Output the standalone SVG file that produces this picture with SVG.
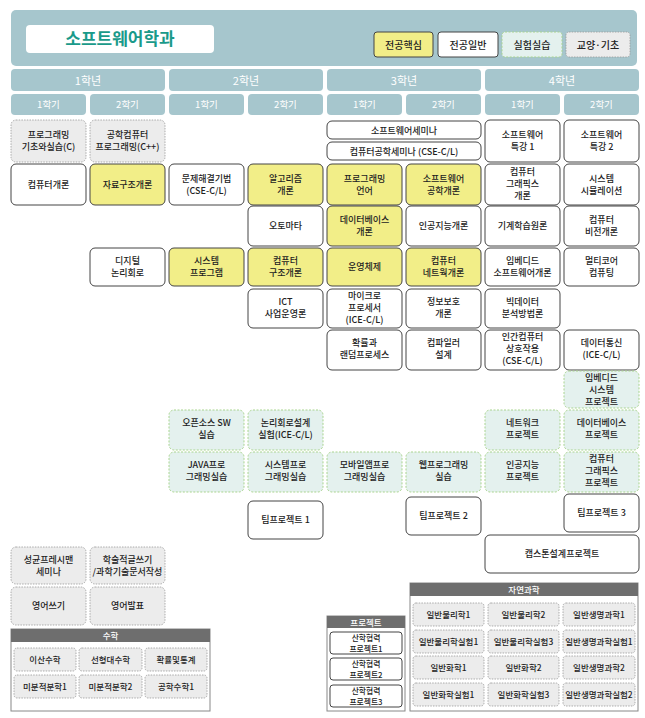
<svg xmlns="http://www.w3.org/2000/svg" width="645" height="718" viewBox="0 0 645 718">
<style>
text{font-family:"Noto Sans CJK KR","Noto Sans",sans-serif;font-size:9px;fill:#222;text-anchor:middle;font-weight:500}
.hd{fill:#a6c6cd}
.ht{fill:#fff;font-size:11px;font-weight:400}
.st{fill:#fff;font-size:9.5px;font-weight:400}
.n{fill:#fff;stroke:#444;stroke-width:1}
.y{fill:#f2ee88;stroke:#444;stroke-width:1}
.l{fill:#e4f1ee;stroke:#a9d48f;stroke-width:1;stroke-dasharray:2 1.5}
.g{fill:#ececec;stroke:#999;stroke-width:0.8;stroke-dasharray:1.5 1.2}
.pn{fill:#fff;stroke:#888;stroke-width:1}
.ph{fill:#6e6e6e}
.pt{fill:#fff;font-size:8.5px}
.s{font-size:8.5px}
.p{font-size:7.8px}
</style>
<g id="header">
<rect x="11" y="10" width="626" height="56" rx="5" class="hd"/>
<rect x="26" y="25" width="188" height="28" rx="4" fill="#fff"/>
<text x="120" y="45" style="font-size:17px;fill:#1a9a8a;font-weight:700">소프트웨어학과</text>
<rect x="374" y="32" width="59" height="25" rx="3" class="y"/><text x="403.5" y="48.5" style="font-size:10px">전공핵심</text>
<rect x="438" y="32" width="60" height="25" rx="3" class="n"/><text x="468" y="48.5" style="font-size:10px">전공일반</text>
<rect x="502" y="32" width="60" height="25" rx="3" class="l"/><text x="532" y="48.5" style="font-size:10px">실험실습</text>
<rect x="566" y="32" width="64" height="25" rx="3" class="g"/><text x="598" y="48.5" style="font-size:10px">교양·기초</text>
</g>
<g id="years">
<rect x="11" y="69" width="154" height="22" rx="4" class="hd"/><text x="88" y="84.5" class="ht">1학년</text>
<rect x="169" y="69" width="154" height="22" rx="4" class="hd"/><text x="246" y="84.5" class="ht">2학년</text>
<rect x="327" y="69" width="154" height="22" rx="4" class="hd"/><text x="404" y="84.5" class="ht">3학년</text>
<rect x="485" y="69" width="154" height="22" rx="4" class="hd"/><text x="562" y="84.5" class="ht">4학년</text>
<rect x="11" y="94" width="75" height="21" rx="4" class="hd"/><text x="48.5" y="108" class="st">1학기</text>
<rect x="90" y="94" width="75" height="21" rx="4" class="hd"/><text x="127.5" y="108" class="st">2학기</text>
<rect x="169" y="94" width="75" height="21" rx="4" class="hd"/><text x="206.5" y="108" class="st">1학기</text>
<rect x="248" y="94" width="75" height="21" rx="4" class="hd"/><text x="285.5" y="108" class="st">2학기</text>
<rect x="327" y="94" width="75" height="21" rx="4" class="hd"/><text x="364.5" y="108" class="st">1학기</text>
<rect x="406" y="94" width="75" height="21" rx="4" class="hd"/><text x="443.5" y="108" class="st">2학기</text>
<rect x="485" y="94" width="75" height="21" rx="4" class="hd"/><text x="522.5" y="108" class="st">1학기</text>
<rect x="564" y="94" width="75" height="21" rx="4" class="hd"/><text x="601.5" y="108" class="st">2학기</text>
</g>
<g id="row1">
<rect x="11" y="120" width="75" height="42" rx="5" class="g"/><text x="48.5" y="138">프로그래밍</text><text x="48.5" y="150">기초와실습(C)</text>
<rect x="90" y="120" width="75" height="42" rx="5" class="g"/><text x="127.5" y="138">공학컴퓨터</text><text x="127.5" y="150">프로그래밍(C++)</text>
<rect x="327" y="121" width="154" height="18" rx="5" class="n"/><text x="404" y="133.5">소프트웨어세미나</text>
<rect x="327" y="142" width="154" height="18" rx="5" class="n"/><text x="404" y="154.5">컴퓨터공학세미나 (CSE-C/L)</text>
<rect x="485" y="120" width="75" height="42" rx="5" class="n"/><text x="522.5" y="138">소프트웨어</text><text x="522.5" y="150">특강 1</text>
<rect x="564" y="120" width="75" height="42" rx="5" class="n"/><text x="601.5" y="138">소프트웨어</text><text x="601.5" y="150">특강 2</text>
</g>
<g id="row2">
<rect x="11" y="164" width="75" height="41" rx="5" class="n"/><text x="48.5" y="188">컴퓨터개론</text>
<rect x="90" y="164" width="75" height="41" rx="5" class="y"/><text x="127.5" y="188">자료구조개론</text>
<rect x="169" y="164" width="75" height="41" rx="5" class="n"/><text x="206.5" y="182">문제해결기법</text><text x="206.5" y="194">(CSE-C/L)</text>
<rect x="248" y="164" width="75" height="41" rx="5" class="y"/><text x="285.5" y="182">알고리즘</text><text x="285.5" y="194">개론</text>
<rect x="327" y="164" width="75" height="41" rx="5" class="y"/><text x="364.5" y="182">프로그래밍</text><text x="364.5" y="194">언어</text>
<rect x="406" y="164" width="75" height="41" rx="5" class="y"/><text x="443.5" y="182">소프트웨어</text><text x="443.5" y="194">공학개론</text>
<rect x="485" y="164" width="75" height="41" rx="5" class="n"/><text x="522.5" y="175">컴퓨터</text><text x="522.5" y="187">그래픽스</text><text x="522.5" y="199">개론</text>
<rect x="564" y="164" width="75" height="41" rx="5" class="n"/><text x="601.5" y="182">시스템</text><text x="601.5" y="194">시뮬레이션</text>
</g>
<g id="row3">
<rect x="248" y="206" width="75" height="40" rx="5" class="n"/><text x="285.5" y="229">오토마타</text>
<rect x="327" y="206" width="75" height="40" rx="5" class="y"/><text x="364.5" y="223">데이터베이스</text><text x="364.5" y="235">개론</text>
<rect x="406" y="206" width="75" height="40" rx="5" class="n"/><text x="443.5" y="229">인공지능개론</text>
<rect x="485" y="206" width="75" height="40" rx="5" class="n"/><text x="522.5" y="229">기계학습원론</text>
<rect x="564" y="206" width="75" height="40" rx="5" class="n"/><text x="601.5" y="223">컴퓨터</text><text x="601.5" y="235">비전개론</text>
</g>
<g id="row4">
<rect x="90" y="248" width="75" height="38" rx="5" class="n"/><text x="127.5" y="264">디지털</text><text x="127.5" y="276">논리회로</text>
<rect x="169" y="248" width="75" height="38" rx="5" class="y"/><text x="206.5" y="264">시스템</text><text x="206.5" y="276">프로그램</text>
<rect x="248" y="248" width="75" height="38" rx="5" class="y"/><text x="285.5" y="264">컴퓨터</text><text x="285.5" y="276">구조개론</text>
<rect x="327" y="248" width="75" height="38" rx="5" class="y"/><text x="364.5" y="270">운영체제</text>
<rect x="406" y="248" width="75" height="38" rx="5" class="y"/><text x="443.5" y="264">컴퓨터</text><text x="443.5" y="276">네트웍개론</text>
<rect x="485" y="248" width="75" height="38" rx="5" class="n"/><text x="522.5" y="264">임베디드</text><text x="522.5" y="276">소프트웨어개론</text>
<rect x="564" y="248" width="75" height="38" rx="5" class="n"/><text x="601.5" y="264">멀티코어</text><text x="601.5" y="276">컴퓨팅</text>
</g>
<g id="row5">
<rect x="248" y="289" width="75" height="39" rx="5" class="n"/><text x="285.5" y="305">ICT</text><text x="285.5" y="317">사업운영론</text>
<rect x="327" y="289" width="75" height="39" rx="5" class="n"/><text x="364.5" y="299">마이크로</text><text x="364.5" y="311">프로세서</text><text x="364.5" y="323">(ICE-C/L)</text>
<rect x="406" y="289" width="75" height="39" rx="5" class="n"/><text x="443.5" y="305">정보보호</text><text x="443.5" y="317">개론</text>
<rect x="485" y="289" width="75" height="39" rx="5" class="n"/><text x="522.5" y="305">빅데이터</text><text x="522.5" y="317">분석방법론</text>
</g>
<g id="row6">
<rect x="327" y="330" width="75" height="40" rx="5" class="n"/><text x="364.5" y="346">확률과</text><text x="364.5" y="358">랜덤프로세스</text>
<rect x="406" y="330" width="75" height="40" rx="5" class="n"/><text x="443.5" y="346">컴파일러</text><text x="443.5" y="358">설계</text>
<rect x="485" y="330" width="75" height="40" rx="5" class="n"/><text x="522.5" y="340">인간컴퓨터</text><text x="522.5" y="352">상호작용</text><text x="522.5" y="364">(CSE-C/L)</text>
<rect x="564" y="330" width="75" height="40" rx="5" class="n"/><text x="601.5" y="346">데이터통신</text><text x="601.5" y="358">(ICE-C/L)</text>
</g>
<g id="labs">
<rect x="564" y="371" width="75" height="37" rx="5" class="l"/><text x="601.5" y="381">임베디드</text><text x="601.5" y="393">시스템</text><text x="601.5" y="405">프로젝트</text>
<rect x="169" y="410" width="75" height="40" rx="5" class="l"/><text x="206.5" y="426">오픈소스 SW</text><text x="206.5" y="438">실습</text>
<rect x="248" y="410" width="75" height="40" rx="5" class="l"/><text x="285.5" y="426">논리회로설계</text><text x="285.5" y="438">실험(ICE-C/L)</text>
<rect x="485" y="410" width="75" height="40" rx="5" class="l"/><text x="522.5" y="426">네트워크</text><text x="522.5" y="438">프로젝트</text>
<rect x="564" y="410" width="75" height="40" rx="5" class="l"/><text x="601.5" y="426">데이터베이스</text><text x="601.5" y="438">프로젝트</text>
<rect x="169" y="452" width="75" height="40" rx="5" class="l"/><text x="206.5" y="468">JAVA프로</text><text x="206.5" y="480">그래밍실습</text>
<rect x="248" y="452" width="75" height="40" rx="5" class="l"/><text x="285.5" y="468">시스템프로</text><text x="285.5" y="480">그래밍실습</text>
<rect x="327" y="452" width="75" height="40" rx="5" class="l"/><text x="364.5" y="468">모바일앱프로</text><text x="364.5" y="480">그래밍실습</text>
<rect x="406" y="452" width="75" height="40" rx="5" class="l"/><text x="443.5" y="468">웹프로그래밍</text><text x="443.5" y="480">실습</text>
<rect x="485" y="452" width="75" height="40" rx="5" class="l"/><text x="522.5" y="468">인공지능</text><text x="522.5" y="480">프로젝트</text>
<rect x="564" y="452" width="75" height="40" rx="5" class="l"/><text x="601.5" y="462">컴퓨터</text><text x="601.5" y="474">그래픽스</text><text x="601.5" y="486">프로젝트</text>
</g>
<g id="team">
<rect x="248" y="501" width="75" height="38" rx="5" class="n"/><text x="285.5" y="523">팀프로젝트 1</text>
<rect x="406" y="497" width="75" height="38" rx="5" class="n"/><text x="443.5" y="519">팀프로젝트 2</text>
<rect x="564" y="494" width="75" height="38" rx="5" class="n"/><text x="601.5" y="516">팀프로젝트 3</text>
<rect x="485" y="535" width="154" height="38" rx="5" class="n"/><text x="562" y="557">캡스톤설계프로젝트</text>
</g>
<g id="liberal">
<rect x="11" y="547" width="75" height="37" rx="5" class="g"/><text x="48.5" y="563">성균프레시맨</text><text x="48.5" y="575">세미나</text>
<rect x="90" y="547" width="75" height="37" rx="5" class="g"/><text x="127.5" y="563">학술적글쓰기</text><text x="127.5" y="575">/과학기술문서작성</text>
<rect x="11" y="587" width="75" height="38" rx="5" class="g"/><text x="48.5" y="609">영어쓰기</text>
<rect x="90" y="587" width="75" height="38" rx="5" class="g"/><text x="127.5" y="609">영어발표</text>
</g>
<g id="math">
<rect x="11" y="629" width="199" height="82" class="pn"/>
<rect x="11" y="629" width="199" height="13" class="ph"/><text x="110.5" y="639" class="pt">수학</text>
<rect x="14" y="648" width="62" height="23" rx="3" class="g"/><text x="45" y="662.5" class="s">이산수학</text>
<rect x="79" y="648" width="63" height="23" rx="3" class="g"/><text x="110.5" y="662.5" class="s">선형대수학</text>
<rect x="145" y="648" width="62" height="23" rx="3" class="g"/><text x="176" y="662.5" class="s">확률및통계</text>
<rect x="14" y="675" width="62" height="23" rx="3" class="g"/><text x="45" y="689.5" class="s">미분적분학1</text>
<rect x="79" y="675" width="63" height="23" rx="3" class="g"/><text x="110.5" y="689.5" class="s">미분적분학2</text>
<rect x="145" y="675" width="62" height="23" rx="3" class="g"/><text x="176" y="689.5" class="s">공학수학1</text>
</g>
<g id="project">
<rect x="327" y="616" width="78" height="95" class="pn"/>
<rect x="327" y="616" width="78" height="12" class="ph"/><text x="366" y="625.5" class="pt">프로젝트</text>
<rect x="330" y="632" width="72" height="22" rx="3" class="n"/><text x="366" y="641" class="p">산학협력</text><text x="366" y="651.5" class="p">프로젝트1</text>
<rect x="330" y="658" width="72" height="22" rx="3" class="n"/><text x="366" y="667" class="p">산학협력</text><text x="366" y="677.5" class="p">프로젝트2</text>
<rect x="330" y="685" width="72" height="22" rx="3" class="n"/><text x="366" y="694" class="p">산학협력</text><text x="366" y="704.5" class="p">프로젝트3</text>
</g>
<g id="science">
<rect x="410" y="583" width="228" height="128" class="pn"/>
<rect x="410" y="583" width="228" height="13" class="ph"/><text x="524" y="593" class="pt">자연과학</text>
<rect x="413" y="603" width="71" height="23" rx="3" class="g"/><text x="448.5" y="617.5" class="s">일반물리학1</text>
<rect x="488" y="603" width="71" height="23" rx="3" class="g"/><text x="523.5" y="617.5" class="s">일반물리학2</text>
<rect x="563" y="603" width="72" height="23" rx="3" class="g"/><text x="599" y="617.5" class="s">일반생명과학1</text>
<rect x="413" y="630" width="71" height="23" rx="3" class="g"/><text x="448.5" y="644.5" class="s">일반물리학실험1</text>
<rect x="488" y="630" width="71" height="23" rx="3" class="g"/><text x="523.5" y="644.5" class="s">일반물리학실험3</text>
<rect x="563" y="630" width="72" height="23" rx="3" class="g"/><text x="599" y="644.5" class="s">일반생명과학실험1</text>
<rect x="413" y="656" width="71" height="23" rx="3" class="g"/><text x="448.5" y="670.5" class="s">일반화학1</text>
<rect x="488" y="656" width="71" height="23" rx="3" class="g"/><text x="523.5" y="670.5" class="s">일반화학2</text>
<rect x="563" y="656" width="72" height="23" rx="3" class="g"/><text x="599" y="670.5" class="s">일반생명과학2</text>
<rect x="413" y="683" width="71" height="23" rx="3" class="g"/><text x="448.5" y="697.5" class="s">일반화학실험1</text>
<rect x="488" y="683" width="71" height="23" rx="3" class="g"/><text x="523.5" y="697.5" class="s">일반화학실험3</text>
<rect x="563" y="683" width="72" height="23" rx="3" class="g"/><text x="599" y="697.5" class="s">일반생명과학실험2</text>
</g>
<g id="connectors"/>
</svg>
